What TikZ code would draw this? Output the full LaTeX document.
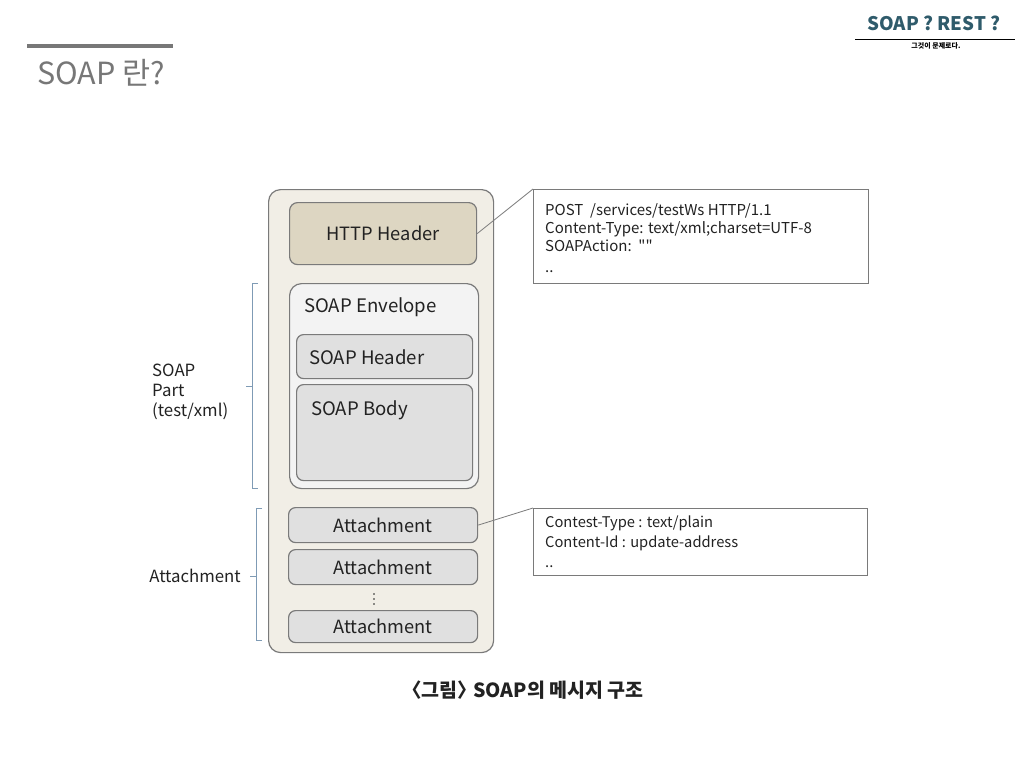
\documentclass[tikz,border=0pt]{standalone}
\usepackage{fontspec}
\setmainfont{Noto Sans CJK KR}
\newfontfamily\notefont{Noto Sans CJK KR}[Ligatures=TeXOff]
\usetikzlibrary{positioning}
\definecolor{outerfill}{HTML}{F1EEE6}
\definecolor{httpfill}{HTML}{DDD6C2}
\definecolor{envfill}{HTML}{F3F3F3}
\definecolor{partfill}{HTML}{E0E0E0}
\definecolor{boxline}{HTML}{7A7A7A}
\definecolor{bracketblue}{HTML}{7F9BB5}
\definecolor{titlegray}{HTML}{777777}
\definecolor{headteal}{HTML}{2F5B6B}
\definecolor{inktext}{HTML}{222222}

\begin{document}
\begin{tikzpicture}[x=1pt, y=-1pt,
    outerbox/.style={rectangle, rounded corners=12pt, draw=boxline, fill=outerfill, line width=1.2pt, anchor=north west},
    httpbox/.style={rectangle, rounded corners=8pt, draw=boxline, fill=httpfill, line width=1.2pt, anchor=north west, text=inktext, font=\fontsize{18.3}{21}\selectfont},
    envbox/.style={rectangle, rounded corners=12pt, draw=boxline, fill=envfill, line width=1.2pt, anchor=north west},
    partbox/.style={rectangle, rounded corners=7pt, draw=boxline, fill=partfill, line width=1.2pt, anchor=north west, text=inktext, font=\fontsize{18.2}{21}\selectfont},
    notebox/.style={rectangle, draw=boxline, fill=white, line width=1pt, anchor=north west, inner sep=0pt},
    notetext/.style={anchor=north west, inner sep=0pt, align=left, text=inktext},
    boxtext/.style={anchor=west, inner sep=0pt, text=inktext, font=\fontsize{18.6}{21}\selectfont},
    sidetext/.style={inner sep=0pt, align=left, text=inktext, font=\fontsize{16.8}{20}\selectfont},
    bracket/.style={draw=bracketblue, line width=1pt},
    ]
    \useasboundingbox (0,0) rectangle (1024,768);

    %Header
    \node[text=headteal, font=\fontsize{18.7}{20}\selectfont\bfseries] (toptitle) at (934,23) {SOAP ? REST ?};
    \coordinate (ruleleft) at (855,40);
    \coordinate (ruleright) at (1015,40);
    \draw[line width=1pt] (ruleleft) -- (ruleright);
    \node[font=\fontsize{7}{7}\selectfont\bfseries, inner sep=0pt] (subtitle) at (936,46) {그것이 문제로다.};
    \coordinate (barleft) at (27,46);
    \coordinate (barright) at (173,46);
    \draw[line width=4pt, titlegray] (barleft) -- (barright);
    \node[anchor=west, inner sep=0pt, text=titlegray, font=\fontsize{30.5}{33}\selectfont] (pagetitle) at (37,73) {SOAP 란?};

    %Nodes
    \node[outerbox, minimum width=225pt, minimum height=463pt] (message) at (268,189) {};
    \node[httpbox, minimum width=187pt, minimum height=62pt] (http) at (289,202) {HTTP Header};
    \node[envbox, minimum width=189pt, minimum height=205pt] (envelope) at (289,283) {};
    \node[boxtext] (envlabel) at (304,307) {SOAP Envelope};
    \node[partbox, minimum width=176pt, minimum height=44pt] (soaphead) at (296,334) {};
    \node[boxtext] (headlabel) at (309,357) {SOAP Header};
    \node[partbox, minimum width=176pt, minimum height=96pt] (soapbody) at (296,384) {};
    \node[boxtext] (bodylabel) at (311,410) {SOAP Body};
    \node[partbox, minimum width=189pt, minimum height=35pt] (att1) at (288,507) {Attachment};
    \node[partbox, minimum width=189pt, minimum height=35pt] (att2) at (288,549) {Attachment};
    \coordinate (attdots) at (374,599);
    \foreach \dy in {-5,0,5}
        \fill[inktext] ([yshift=\dy pt]attdots) circle (0.9pt);
    \node[partbox, minimum width=189pt, minimum height=32pt] (att3) at (288,610) {Attachment};

    \node[notebox, minimum width=335pt, minimum height=94pt] (httpnote) at (533,189) {};
    \node[notetext, font=\notefont\fontsize{15}{18}\selectfont] (httptext) at (545,203)
        {POST\ \ /services/testWs HTTP/1.1\\Content-Type: text/xml;charset=UTF-8\\SOAPAction:\ \ ""\\[3pt]..};
    \node[notebox, minimum width=334pt, minimum height=67pt] (attnote) at (533,508) {};
    \node[notetext, font=\notefont\fontsize{14.7}{20}\selectfont] (atttext) at (545,516)
        {Contest-Type : text/plain\\Content-Id : update-address\\..};

    \node[sidetext, anchor=west] (partlabel) at (152,392) {SOAP\\Part\\(test/xml)};
    \node[sidetext, anchor=east] (attlabel) at (241,576) {Attachment};

    %Lines
    \draw[boxline, line width=0.8pt] (http.east) -- (httpnote.north west);
    \draw[boxline, line width=0.8pt] (att1.east) -- (attnote.north west);

    %Brackets
    \draw[bracket] (258,283) -- (252,283) -- (252,488) -- (258,488);
    \draw[bracket] (252,386) -- (246,386);
    \draw[bracket] (262,508) -- (256,508) -- (256,640) -- (262,640);
    \draw[bracket] (256,576) -- (250,576);

    %Caption
    \node[font=\fontsize{19.5}{21}\selectfont\bfseries, text=inktext] (caption) at (527,690) {\kern-0.4em〈그림〉\kern-0.2em SOAP의 메시지 구조};
\end{tikzpicture}
\end{document}
